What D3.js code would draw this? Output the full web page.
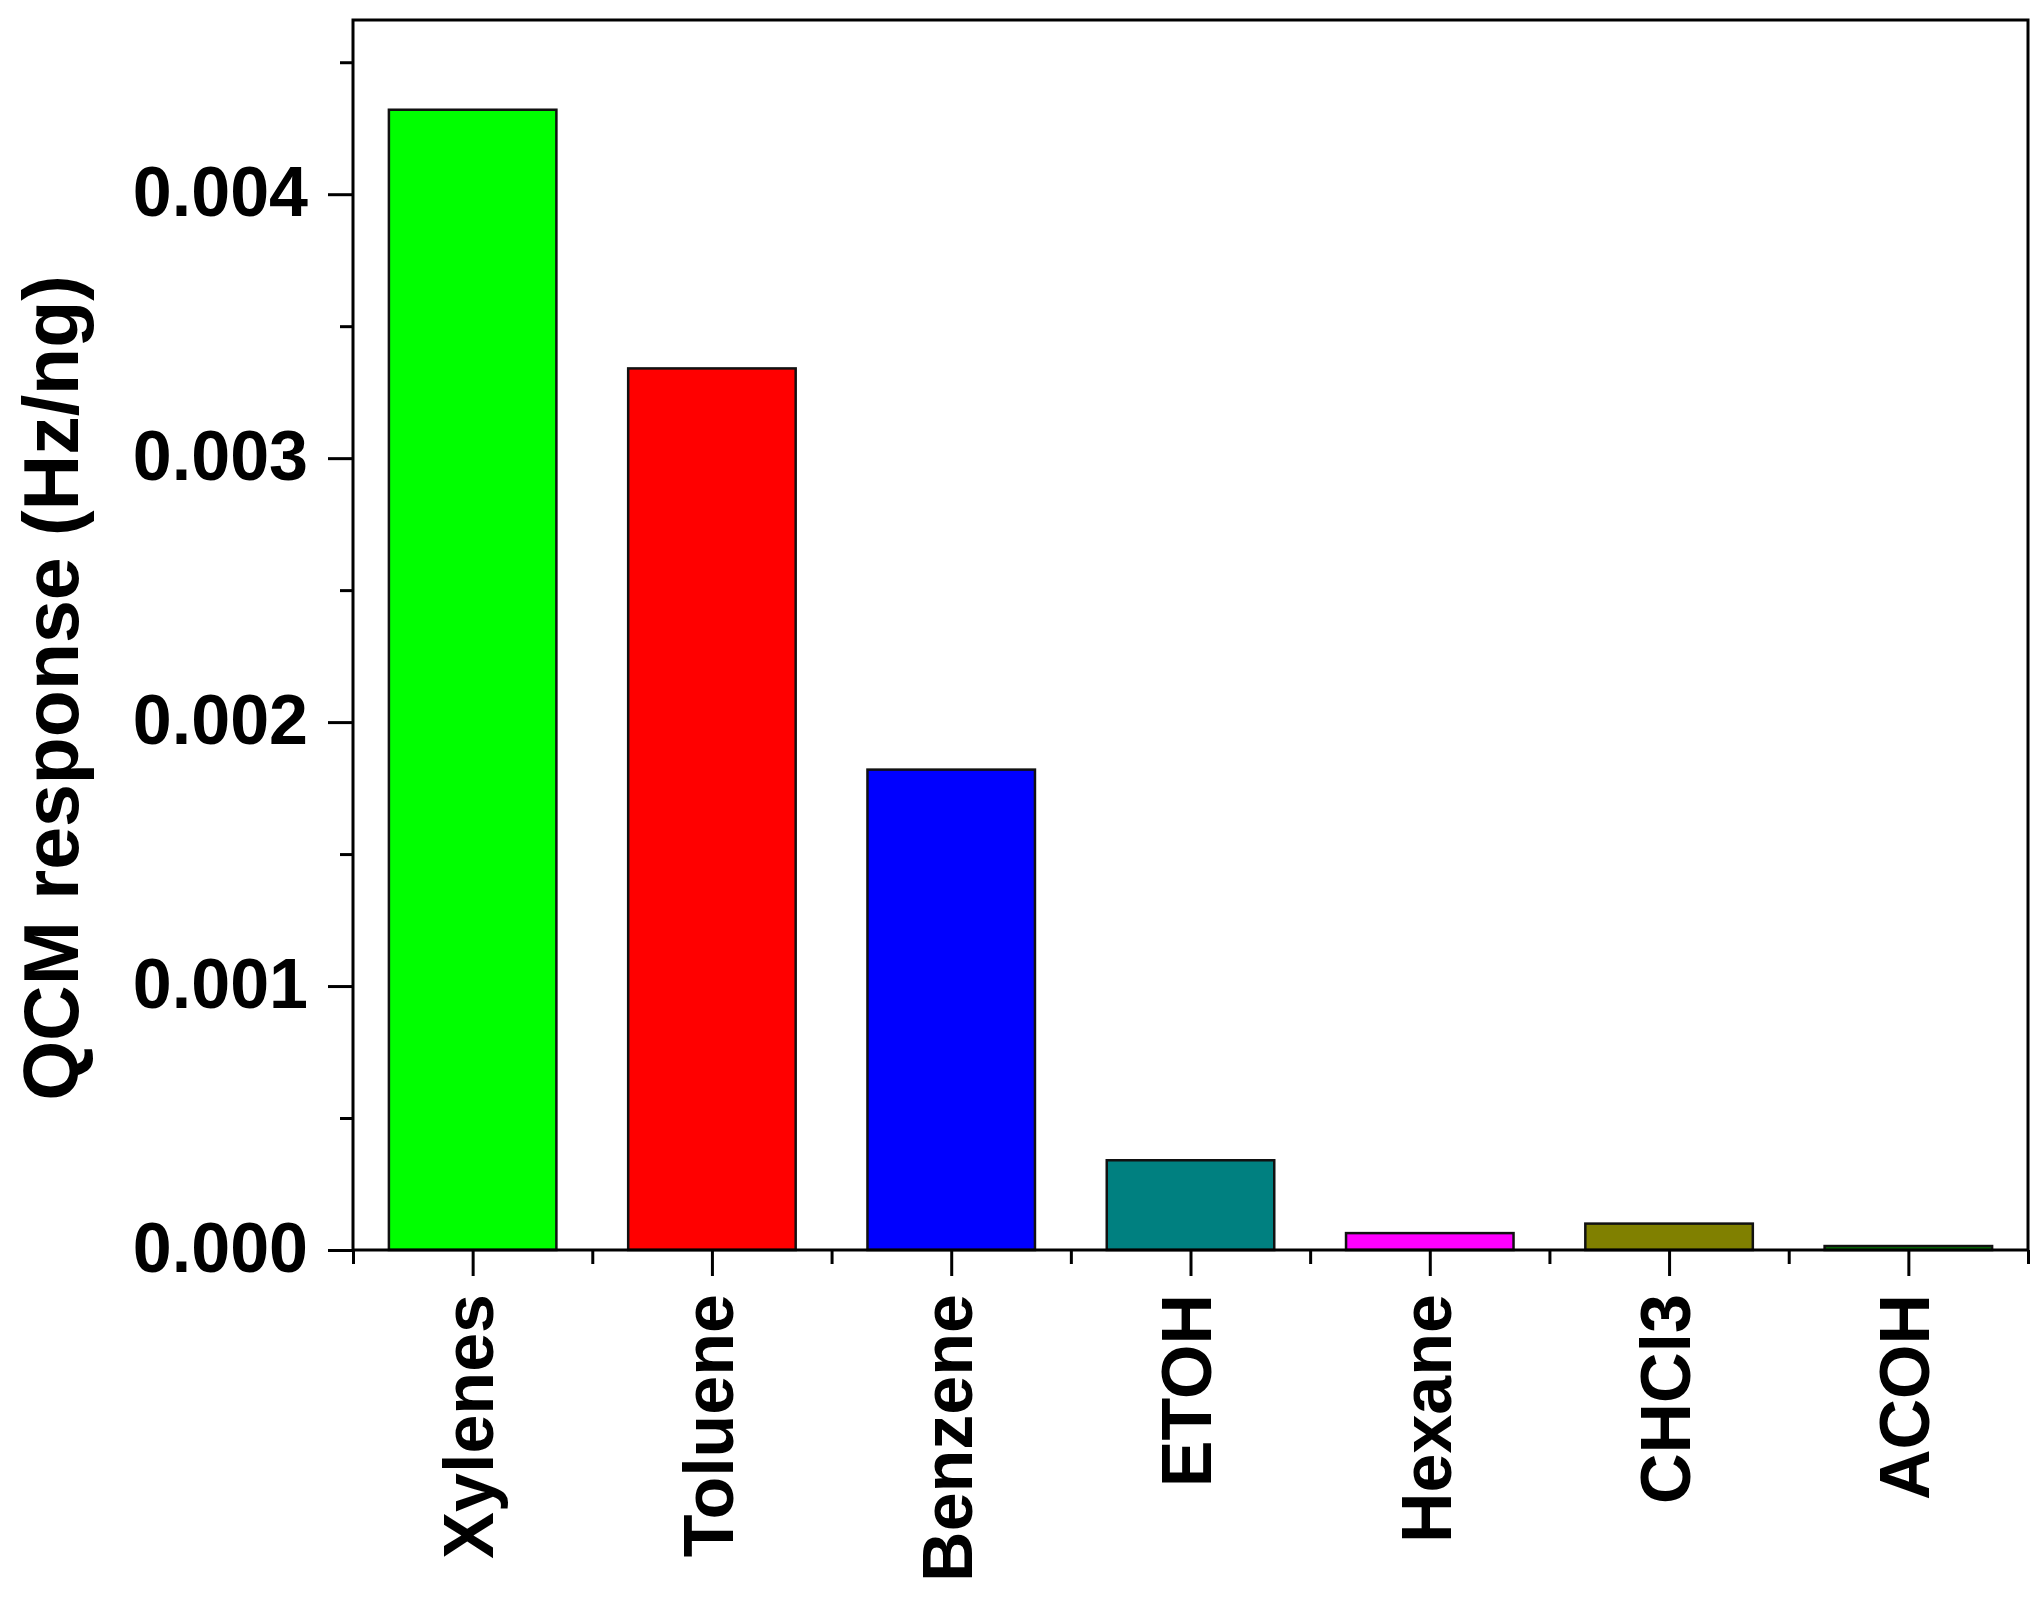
<!DOCTYPE html>
<html>
<head>
<meta charset="utf-8">
<script src="https://cdn.jsdelivr.net/npm/d3@7"></script>
<style>
html, body { margin: 0; padding: 0; background: #fff; }
svg { display: block; }
text { font-family: "Liberation Sans", Arial, sans-serif; font-weight: bold; fill: #000; }
</style>
</head>
<body>
<script>
const categories = ["Xylenes", "Toluene", "Benzene", "ETOH", "Hexane", "CHCl3", "ACOH"];
const values = [0.00432, 0.00334, 0.00182, 0.00034, 0.000064, 0.0001, 0.000015];
const colors = ["#00FF00", "#FF0000", "#0000FF", "#008080", "#FF00FF", "#808000", "#008000"];
const yTicks = [0, 0.001, 0.002, 0.003, 0.004];
const yMinorTicks = [0.0005, 0.0015, 0.0025, 0.0035, 0.0045];
const yLabel = "QCM response (Hz/ng)";

const W = 2044, H = 1599;
const mLeft = 353, mRight = 2028, mTop = 20, mBottom = 1250;

const svg = d3.select("body").append("svg").attr("width", W).attr("height", H);

const x = d3.scaleLinear().domain([0.5, categories.length + 0.5]).range([mLeft, mRight]);
const y = d3.scaleLinear().domain([0, 0.00466]).range([mBottom, mTop]);
const barW = x(1.7) - x(1);

// bars
svg.append("g").selectAll("rect").data(values).join("rect")
  .attr("x", (d, i) => x(i + 1) - barW / 2)
  .attr("y", d => y(d))
  .attr("width", barW)
  .attr("height", d => y(0) - y(d))
  .attr("fill", (d, i) => colors[i])
  .attr("stroke", "#111")
  .attr("stroke-width", 2.5);

// frame
svg.append("rect").attr("x", mLeft).attr("y", mTop)
  .attr("width", mRight - mLeft).attr("height", mBottom - mTop)
  .attr("fill", "none").attr("stroke", "#000").attr("stroke-width", 3);

// y axis
const yAxis = d3.axisLeft(y).tickValues(yTicks).tickFormat(d3.format(".3f")).tickSize(25).tickSizeOuter(0).tickPadding(20);
const gy = svg.append("g").attr("transform", `translate(${mLeft},0)`).call(yAxis);
gy.select(".domain").remove();
gy.selectAll(".tick line").attr("stroke", "#000").attr("stroke-width", 3);
gy.selectAll(".tick text").style("font-size", "70px").attr("dy", "0.3em");

const yMinor = d3.axisLeft(y).tickValues(yMinorTicks).tickSize(13).tickFormat("");
const gym = svg.append("g").attr("transform", `translate(${mLeft},0)`).call(yMinor);
gym.select(".domain").remove();
gym.selectAll(".tick line").attr("stroke", "#000").attr("stroke-width", 3);

// x axis
const xAxis = d3.axisBottom(x).tickValues(d3.range(1, categories.length + 1))
  .tickFormat(d => categories[d - 1]).tickSize(26).tickSizeOuter(0).tickPadding(0);
const gx = svg.append("g").attr("transform", `translate(0,${mBottom})`).call(xAxis);
gx.select(".domain").remove();
gx.selectAll(".tick line").attr("stroke", "#000").attr("stroke-width", 3);
gx.selectAll(".tick text")
  .style("font-size", "70px")
  .attr("text-anchor", "end")
  .attr("transform", "rotate(-90)")
  .attr("x", -44)
  .attr("y", 0)
  .attr("dy", "0.29em");

const xMinor = d3.axisBottom(x).tickValues(d3.range(0.5, categories.length + 1, 1)).tickSize(14).tickFormat("");
const gxm = svg.append("g").attr("transform", `translate(0,${mBottom})`).call(xMinor);
gxm.select(".domain").remove();
gxm.selectAll(".tick line").attr("stroke", "#000").attr("stroke-width", 3);

// y label
svg.append("text")
  .attr("transform", `translate(78,${(mTop + mBottom) / 2 + 53}) rotate(-90)`)
  .attr("text-anchor", "middle")
  .style("font-size", "77px")
  .text(yLabel);
</script>
</body>
</html>
